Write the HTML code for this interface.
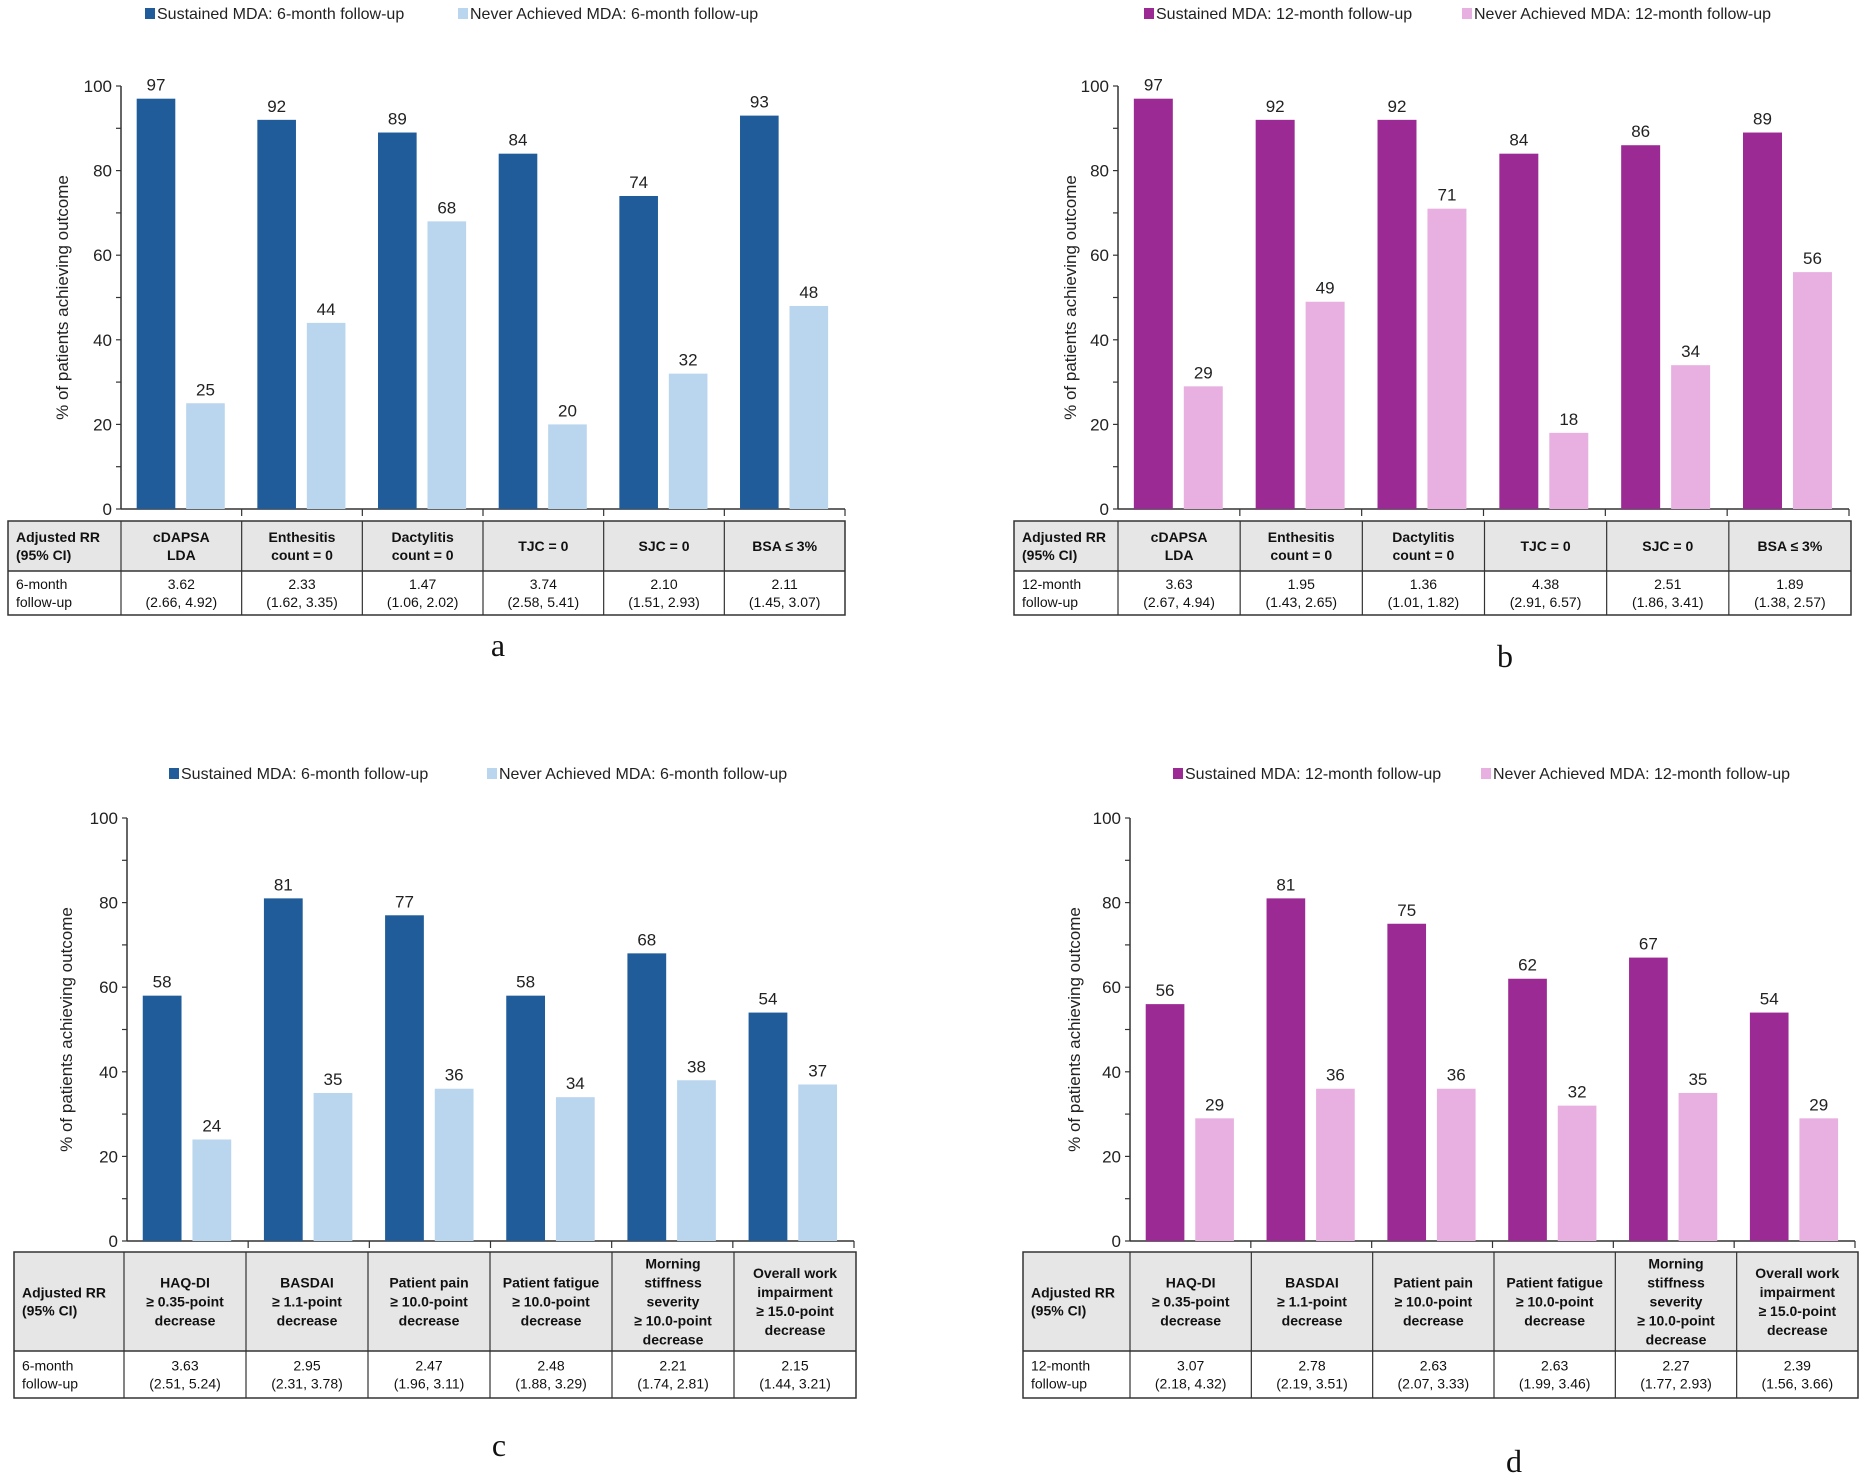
<!DOCTYPE html>
<html><head><meta charset="utf-8">
<style>
body{margin:0;background:#fff;width:1864px;height:1476px;overflow:hidden;font-family:"Liberation Sans",Arial,sans-serif;}
svg text{font-family:"Liberation Sans",Arial,sans-serif;}
</style></head>
<body>
<svg id="root" width="1864" height="1476" xmlns="http://www.w3.org/2000/svg"></svg>
<script>
const aCats=["cDAPSA|LDA","Enthesitis|count = 0","Dactylitis|count = 0","TJC = 0","SJC = 0","BSA ≤ 3%"];
const aSust=[97,92,89,84,74,93];
const aNever=[25,44,68,20,32,48];
const aRR=["3.62|(2.66, 4.92)","2.33|(1.62, 3.35)","1.47|(1.06, 2.02)","3.74|(2.58, 5.41)","2.10|(1.51, 2.93)","2.11|(1.45, 3.07)"];
const bSust=[97,92,92,84,86,89];
const bNever=[29,49,71,18,34,56];
const bRR=["3.63|(2.67, 4.94)","1.95|(1.43, 2.65)","1.36|(1.01, 1.82)","4.38|(2.91, 6.57)","2.51|(1.86, 3.41)","1.89|(1.38, 2.57)"];
const cCats=["HAQ-DI|≥ 0.35-point|decrease","BASDAI|≥ 1.1-point|decrease","Patient pain|≥ 10.0-point|decrease","Patient fatigue|≥ 10.0-point|decrease","Morning|stiffness|severity|≥ 10.0-point|decrease","Overall work|impairment|≥ 15.0-point|decrease"];
const cSust=[58,81,77,58,68,54];
const cNever=[24,35,36,34,38,37];
const cRR=["3.63|(2.51, 5.24)","2.95|(2.31, 3.78)","2.47|(1.96, 3.11)","2.48|(1.88, 3.29)","2.21|(1.74, 2.81)","2.15|(1.44, 3.21)"];
const dSust=[56,81,75,62,67,54];
const dNever=[29,36,36,32,35,29];
const dRR=["3.07|(2.18, 4.32)","2.78|(2.19, 3.51)","2.63|(2.07, 3.33)","2.63|(1.99, 3.46)","2.27|(1.77, 2.93)","2.39|(1.56, 3.66)"];
const yTicks=[0,20,40,60,80,100];

const NS="http://www.w3.org/2000/svg";
const root=document.getElementById('root');
function mk(tag,attrs,parent,txt){const e=document.createElementNS(NS,tag);for(const k in attrs)e.setAttribute(k,attrs[k]);if(txt!==undefined)e.textContent=txt;parent.appendChild(e);return e;}
function multi(parent,x,cy,lines,size,weight,lh,anchor){
  const t=mk('text',{x:x,'font-size':size,'font-weight':weight,'text-anchor':anchor||'middle',fill:'#111'},parent);
  const y0=cy-(lines.length-1)*lh/2+size*0.35;
  lines.forEach((l,i)=>{mk('tspan',{x:x,y:y0+i*lh},t,l);});
  return t;
}
function panel(p){
  const g=mk('g',{},root);
  
  
  // legend
  const lg=mk('g',{},g);
  
  
  [[p.lx1,p.c1,p.l1],[p.lx2,p.c2,p.l2]].forEach(([lx,c,l],i)=>{
    const e=mk('g',{},lg);
    
    
    mk('rect',{x:lx,y:p.ly-6,width:10,height:11,fill:c},e);
    mk('text',{x:lx+12,y:p.ly+5,'font-size':16,fill:'#222'},e,l);
  });
  const y=v=>p.y0-(p.y0-p.y100)*v/100;
  const cw=(p.x1-p.x0)/6;
  // axis
  const ax=mk('g',{},g);
  
  
  mk('line',{x1:p.x0,y1:p.y100,x2:p.x0,y2:p.y0,stroke:'#333','stroke-width':1.5},ax);
  for(let v=0;v<=100;v+=10)mk('line',{x1:p.x0-5,y1:y(v),x2:p.x0,y2:y(v),stroke:'#333','stroke-width':1.2},ax);
  yTicks.forEach(v=>{const t=mk('text',{x:p.x0-9,y:y(v)+6,'font-size':17,'text-anchor':'end',fill:'#222'},ax,String(v));
    });
  const yt=mk('text',{x:0,y:0,'font-size':17,'text-anchor':'middle',fill:'#222',transform:`translate(${p.ytx},${(p.y0+p.y100)/2}) rotate(-90)`},ax,'% of patients achieving outcome');
  
  mk('line',{x1:p.x0,y1:p.y0,x2:p.x1,y2:p.y0,stroke:'#333','stroke-width':1.5},g);
  for(let i=1;i<=6;i++)mk('line',{x1:p.x0+i*cw,y1:p.y0,x2:p.x0+i*cw,y2:p.y0+7,stroke:'#333','stroke-width':1.2},g);
  // bars
  const bw=cw*0.32;
  p.s.forEach((v,i)=>{
    const bx=p.x0+i*cw+cw*0.13;
    const r=mk('rect',{x:bx,y:y(v),width:bw,height:p.y0-y(v),fill:p.c1},g);
    
    mk('text',{x:bx+bw/2,y:y(v)-8,'font-size':17,'text-anchor':'middle',fill:'#222'},g,String(v));
    const v2=p.n[i];const bx2=bx+bw+cw*0.09;
    const r2=mk('rect',{x:bx2,y:y(v2),width:bw,height:p.y0-y(v2),fill:p.c2},g);
    
    mk('text',{x:bx2+bw/2,y:y(v2)-8,'font-size':17,'text-anchor':'middle',fill:'#222'},g,String(v2));
  });
  // table
  const tb=mk('g',{},g);
  
  
  mk('rect',{x:p.tl,y:p.tt,width:p.tr-p.tl,height:p.th-p.tt,fill:'#e6e6e6'},tb);
  mk('rect',{x:p.tl,y:p.tt,width:p.tr-p.tl,height:p.tb-p.tt,fill:'none',stroke:'#333','stroke-width':1.5},tb);
  mk('line',{x1:p.tl,y1:p.th,x2:p.tr,y2:p.th,stroke:'#333','stroke-width':1.5},tb);
  const colw=(p.tr-p.tfc)/6;
  for(let i=0;i<6;i++)mk('line',{x1:p.tfc+i*colw,y1:p.tt,x2:p.tfc+i*colw,y2:p.tb,stroke:'#333','stroke-width':1.2},tb);
  const hc=(p.tt+p.th)/2, bc=(p.th+p.tb)/2;
  multi(tb,p.tl+8,hc,['Adjusted RR','(95% CI)'],14,'bold',18,'start');
  multi(tb,p.tl+8,bc,[p.fu,'follow-up'],14,'normal',18,'start');
  p.cats.forEach((c,i)=>{multi(tb,p.tfc+(i+0.5)*colw,hc,c.split('|'),14,'bold',p.hlh,'middle');
    multi(tb,p.tfc+(i+0.5)*colw,bc,p.rr[i].split('|'),14,'normal',18,'middle');});
  mk('text',{x:p.pl[0],y:p.pl[1],'font-size':32,'text-anchor':'middle','font-family':'Liberation Serif',fill:'#111',style:'font-family:"Liberation Serif",serif'},g,p.id);
}
const blue1='#1f5c99',blue2='#b9d6ee',pur1='#9c2a94',pur2='#e8b0e0';
panel({id:'a',c1:blue1,c2:blue2,l1:'Sustained MDA: 6-month follow-up',l2:'Never Achieved MDA: 6-month follow-up',lx1:145,lx2:458,ly:14,
 x0:121,x1:845,y0:509,y100:86,ytx:68,s:aSust,n:aNever,cats:aCats,rr:aRR,fu:'6-month',tl:8,tfc:121,tr:845,tt:521,th:571,tb:615,hlh:18,pl:[498,656]});
panel({id:'b',c1:pur1,c2:pur2,l1:'Sustained MDA: 12-month follow-up',l2:'Never Achieved MDA: 12-month follow-up',lx1:1144,lx2:1462,ly:14,
 x0:1118,x1:1849,y0:509,y100:86,ytx:1076,s:bSust,n:bNever,cats:aCats,rr:bRR,fu:'12-month',tl:1014,tfc:1118,tr:1851,tt:521,th:571,tb:615,hlh:18,pl:[1505,667]});
panel({id:'c',c1:blue1,c2:blue2,l1:'Sustained MDA: 6-month follow-up',l2:'Never Achieved MDA: 6-month follow-up',lx1:169,lx2:487,ly:774,
 x0:127,x1:854,y0:1241,y100:818,ytx:72,s:cSust,n:cNever,cats:cCats,rr:cRR,fu:'6-month',tl:14,tfc:124,tr:856,tt:1252,th:1351,tb:1398,hlh:19,pl:[499,1456]});
panel({id:'d',c1:pur1,c2:pur2,l1:'Sustained MDA: 12-month follow-up',l2:'Never Achieved MDA: 12-month follow-up',lx1:1173,lx2:1481,ly:774,
 x0:1130,x1:1855,y0:1241,y100:818,ytx:1080,s:dSust,n:dNever,cats:cCats,rr:dRR,fu:'12-month',tl:1023,tfc:1130,tr:1858,tt:1252,th:1351,tb:1398,hlh:19,pl:[1514,1472]});
</script>
</body></html>
